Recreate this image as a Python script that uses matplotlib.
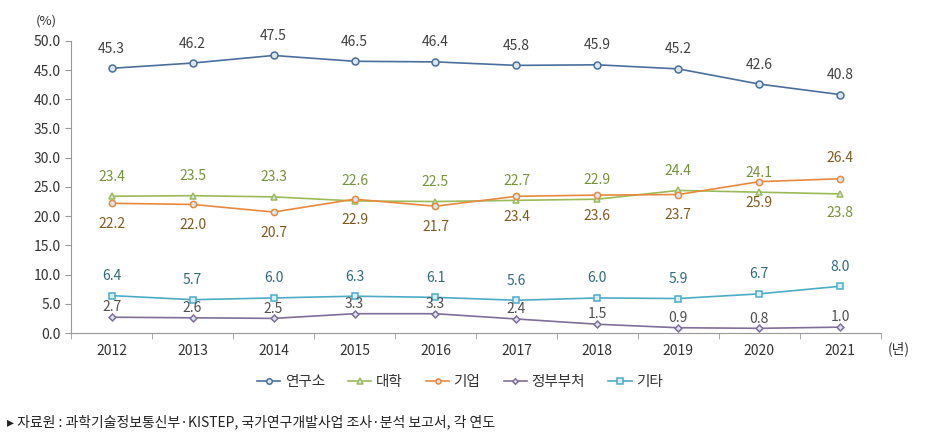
import matplotlib.pyplot as plt

plt.rcParams['font.family'] = ['Noto Sans CJK KR', 'DejaVu Sans']

years = ['2012', '2013', '2014', '2015', '2016', '2017', '2018', '2019', '2020', '2021']
institute = [45.3, 46.2, 47.5, 46.5, 46.4, 45.8, 45.9, 45.2, 42.6, 40.8]
university = [23.4, 23.5, 23.3, 22.6, 22.5, 22.7, 22.9, 24.4, 24.1, 23.8]
company = [22.2, 22.0, 20.7, 22.9, 21.7, 23.4, 23.6, 23.7, 25.9, 26.4]
government = [2.7, 2.6, 2.5, 3.3, 3.3, 2.4, 1.5, 0.9, 0.8, 1.0]
other = [6.4, 5.7, 6.0, 6.3, 6.1, 5.6, 6.0, 5.9, 6.7, 8.0]

# label above (+) or below (-) each point
univ_pos = [1, 1, 1, 1, 1, 1, 1, 1, 1, -1]
comp_pos = [-1, -1, -1, -1, -1, -1, -1, -1, -1, 1]

fig = plt.figure(figsize=(9.36, 4.44), dpi=100)
ax = fig.add_axes([0.076, 0.25, 0.865, 0.658])
x = list(range(len(years)))

series = [
    ('연구소', institute, '#4a6f9c', 'o', 5, '#404040', [1] * 10, 9),
    ('대학', university, '#9bbb59', '^', 5, '#76923c', univ_pos, 9),
    ('기업', company, '#e8893e', 'o', 4.5, '#7f5a1f', comp_pos, 10),
    ('정부부처', government, '#7f6f9a', 'D', 3.5, '#505050', [1] * 10, 2),
    ('기타', other, '#4bacc6', 's', 5, '#31697a', [1] * 10, 9),
]

for name, vals, col, mk, ms, tcol, pos, off in series:
    ax.plot(x, vals, color=col, lw=1.2, marker=mk, ms=ms, mfc='#dce6f2' if mk != 's' else '#dbeef4',
            mec=col, mew=1.1, label=name)
    for xi, v, p in zip(x, vals, pos):
        ax.annotate(f'{v:.1f}', (xi, v), xytext=(0, off * p), textcoords='offset points',
                    ha='center', va='bottom' if p > 0 else 'top', fontsize=10, color=tcol)

ax.set_xlim(-0.5, len(years) - 0.5)
ax.set_ylim(0, 50)
ax.set_yticks([0, 5, 10, 15, 20, 25, 30, 35, 40, 45, 50])
ax.set_yticklabels([f'{v:.1f}' for v in ax.get_yticks()], fontsize=10, color='#333333')
ax.set_xticks(x)
ax.set_xticklabels(years, fontsize=10, color='#333333')
ax.set_xticks([i - 0.5 for i in range(len(years) + 1)], minor=True)
ax.tick_params(axis='x', which='major', length=0, pad=8)
ax.tick_params(axis='x', which='minor', length=4, color='#999999', direction='out')
ax.tick_params(axis='y', length=4, color='#999999', direction='out')
for s in ['top', 'right']:
    ax.spines[s].set_visible(False)
for s in ['left', 'bottom']:
    ax.spines[s].set_color('#999999')

fig.text(0.05, 0.945, '(%)', fontsize=9.5, color='#333333', ha='center')
fig.text(0.948, 0.205, '(년)', fontsize=10, color='#333333', ha='left')

ax.legend(loc='upper center', bbox_to_anchor=(0.48, -0.1), ncol=5, frameon=False,
          fontsize=10.5, handlelength=1.6, handletextpad=0.3, columnspacing=1.6,
          markerscale=0.8, labelcolor='#333333')

fig.text(0.008, 0.04, '▸ 자료원 : 과학기술정보통신부·KISTEP, 국가연구개발사업 조사·분석 보고서, 각 연도',
         fontsize=10, color='#222222')

fig.savefig('out.png', dpi=100)
